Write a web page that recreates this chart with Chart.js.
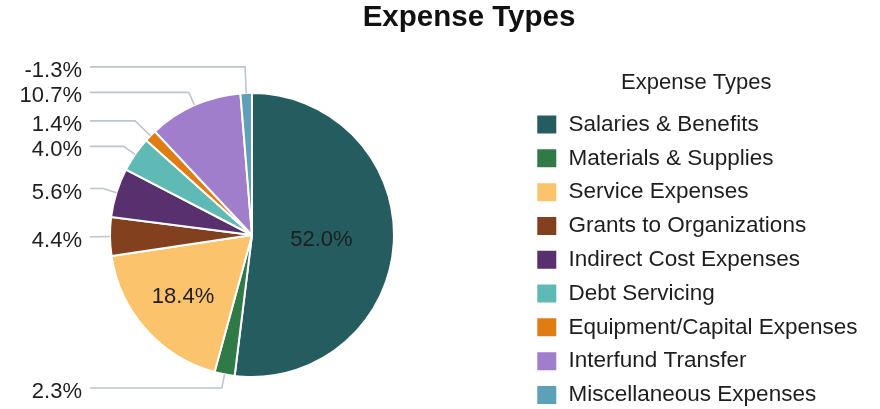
<!DOCTYPE html>
<html>
<head>
<meta charset="utf-8">
<script src="https://cdn.jsdelivr.net/npm/chart.js@4.4.1/dist/chart.umd.min.js"></script>
<style>
html,body{margin:0;padding:0;background:#ffffff;}
canvas{display:block;}
</style>
</head>
<body>
<canvas id="c" width="880" height="409"></canvas>
<script>
// ---- data ----
const chartTitle = 'Expense Types';
const legendTitle = 'Expense Types';
const categories = [
  'Salaries & Benefits',
  'Materials & Supplies',
  'Service Expenses',
  'Grants to Organizations',
  'Indirect Cost Expenses',
  'Debt Servicing',
  'Equipment/Capital Expenses',
  'Interfund Transfer',
  'Miscellaneous Expenses'
];
const shares = [52.0, 2.3, 18.4, 4.4, 5.6, 4.0, 1.4, 10.7, -1.3];
const colors = ['#245c60', '#2f7a46', '#fac36c', '#82401e', '#57306d', '#5fb9b4', '#e07d12', '#a07ecb', '#5ea0b8'];

const FONT = '"Liberation Sans", Arial, Helvetica, sans-serif';
Chart.defaults.font.family = FONT;
Chart.defaults.color = '#1e1e1e';

// labels around / inside the pie, positioned from the arc elements
const pieLabels = {
  id: 'pieLabels',
  afterDatasetsDraw(chart) {
    const meta = chart.getDatasetMeta(0);
    const ctx = chart.ctx;
    const outside = [];
    const inside = [];
    meta.data.forEach((arc, i) => {
      const p = arc.getProps(['x', 'y', 'startAngle', 'endAngle', 'outerRadius'], true);
      const mid = (p.startAngle + p.endAngle) / 2;
      const span = p.endAngle - p.startAngle;
      const txt = shares[i].toFixed(1) + '%';
      if (Math.abs(shares[i]) >= 15) {
        const f = span > Math.PI ? 0.49 : 0.65;
        inside.push({x: p.x + f * p.outerRadius * Math.cos(mid), y: p.y + f * p.outerRadius * Math.sin(mid), txt});
      } else {
        const ex = p.x + p.outerRadius * Math.cos(mid);
        const ey = p.y + p.outerRadius * Math.sin(mid);
        outside.push({ex, ey, mid, y: ey + 14 * Math.sin(mid), txt, cx: p.x, R: p.outerRadius, left: Math.cos(mid) <= 0});
      }
    });
    ctx.save();
    ctx.font = '22px ' + FONT;
    ctx.fillStyle = '#1e1e1e';
    ctx.textBaseline = 'middle';
    ctx.textAlign = 'center';
    inside.forEach(o => ctx.fillText(o.txt, o.x, o.y + 1));

    [true, false].forEach(side => {
      const items = outside.filter(o => o.left === side).sort((a, b) => a.y - b.y);
      for (let k = items.length - 2; k >= 0; k--) {
        items[k].y = Math.min(items[k].y, items[k + 1].y - 25.5);
      }
      items.forEach(o => {
        const s = Math.sin(o.mid), c = Math.cos(o.mid);
        let t = 14;
        if (Math.abs(s) > 0.05) {
          const tt = (o.y - o.ey) / s;
          if (tt > 0) t = tt;
        }
        const bx = o.ex + t * c;
        const lineEnd = side ? o.cx - o.R - 20 : o.cx + o.R + 20;
        const textX = side ? o.cx - o.R - 28 : o.cx + o.R + 28;
        ctx.strokeStyle = '#bcc5d1';
        ctx.lineWidth = 1.6;
        ctx.beginPath();
        ctx.moveTo(o.ex, o.ey);
        ctx.lineTo(bx, o.y);
        ctx.lineTo(lineEnd, o.y);
        ctx.stroke();
        ctx.textAlign = side ? 'right' : 'left';
        ctx.fillText(o.txt, textX, o.y + 4);
      });
    });
    ctx.restore();
  }
};

new Chart(document.getElementById('c'), {
  type: 'pie',
  data: {
    labels: categories,
    datasets: [{
      data: shares.map(v => Math.abs(v)),
      backgroundColor: colors,
      borderColor: '#ffffff',
      borderWidth: 2,
      radius: 142
    }]
  },
  options: {
    responsive: false,
    animation: false,
    layout: {autoPadding: false, padding: {left: 70.55, right: 12.55, top: 0, bottom: -20}},
    plugins: {
      title: {
        display: true,
        text: chartTitle,
        color: '#111',
        font: {size: 29.5, weight: 'bold', lineHeight: 1},
        padding: {top: 3, bottom: 28.5}
      },
      subtitle: {
        display: true,
        text: '',
        position: 'right',
        weight: 500,
        fullSize: false,
        font: {size: 10, lineHeight: 1},
        padding: {top: 0, bottom: 81.55}
      },
      legend: {
        position: 'right',
        align: 'start',
        fullSize: true,
        maxWidth: 400,
        title: {
          display: true,
          text: legendTitle,
          color: '#1e1e1e',
          font: {size: 22},
          padding: {top: 71.5, bottom: 4.1}
        },
        labels: {
          boxWidth: 21,
          boxHeight: 20,
          padding: 11.3,
          color: '#1e1e1e',
          font: {size: 22.5}
        }
      },
      tooltip: {enabled: false}
    }
  },
  plugins: [pieLabels]
});
</script>
</body>
</html>
